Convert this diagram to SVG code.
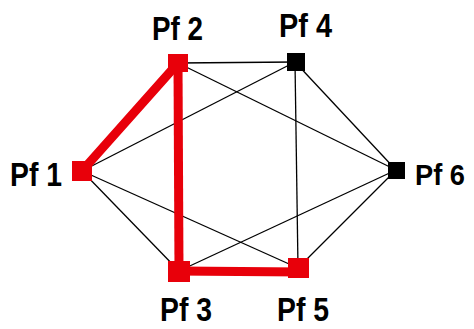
<svg xmlns="http://www.w3.org/2000/svg" width="474" height="329" viewBox="0 0 474 329">
<style>
.thin{stroke:#000;stroke-width:1.3;fill:none}
.thick{stroke:#e8000a;stroke-width:9;fill:none;stroke-linecap:square}
.red{fill:#e8000a}
.blk{fill:#000}
text{font-family:"Liberation Sans Narrow","Liberation Sans",Arial,sans-serif;font-weight:bold;font-size:33px;fill:#000}
</style>
<rect width="474" height="329" fill="#fff"/>
<g id="connectors">
<line class="thin" x1="178" y1="63" x2="295" y2="62"/>
<line class="thin" x1="178" y1="63" x2="396" y2="170"/>
<line class="thin" x1="82" y1="171" x2="295" y2="62"/>
<line class="thin" x1="82" y1="171" x2="298" y2="268"/>
<line class="thin" x1="82" y1="171" x2="179" y2="271"/>
<line class="thin" x1="179" y1="271" x2="396" y2="170"/>
<line class="thin" x1="295" y1="62" x2="298" y2="268"/>
<line class="thin" x1="295" y1="62" x2="396" y2="170"/>
<line class="thin" x1="298" y1="268" x2="396" y2="170"/>
<line class="thick" x1="82" y1="171" x2="178" y2="63"/>
<line class="thick" x1="178" y1="63" x2="179" y2="271"/>
<line class="thick" x1="179" y1="271" x2="298" y2="272"/>
</g>
<g id="pf1"><rect class="red" x="72" y="161" width="20" height="20"/><text x="10" y="186" textLength="52" lengthAdjust="spacingAndGlyphs">Pf 1</text></g>
<g id="pf2"><rect class="red" x="168" y="54" width="20" height="18"/><text x="152" y="40" textLength="51" lengthAdjust="spacingAndGlyphs">Pf 2</text></g>
<g id="pf3"><rect class="red" x="168" y="261" width="22" height="21"/><text x="160" y="321" textLength="52" lengthAdjust="spacingAndGlyphs">Pf 3</text></g>
<g id="pf4"><rect class="blk" x="287" y="53" width="18" height="18"/><text x="279" y="37" textLength="53" lengthAdjust="spacingAndGlyphs">Pf 4</text></g>
<g id="pf5"><rect class="red" x="288" y="258" width="21" height="20"/><text x="277" y="321" textLength="52" lengthAdjust="spacingAndGlyphs">Pf 5</text></g>
<g id="pf6"><rect class="blk" x="388" y="162" width="17" height="17"/><text x="415" y="185" style="font-size:30px" textLength="50" lengthAdjust="spacingAndGlyphs">Pf 6</text></g>
</svg>
